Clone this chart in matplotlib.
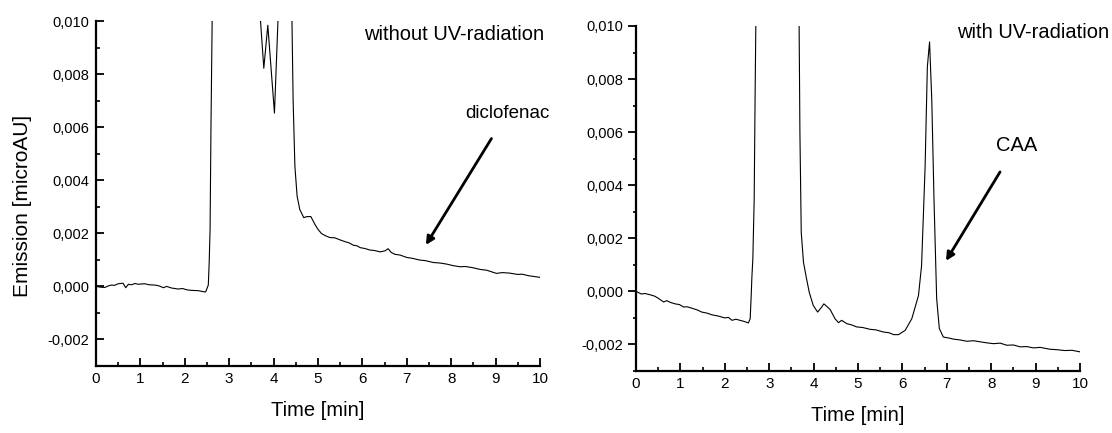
import numpy as np
import matplotlib.pyplot as plt
from matplotlib.ticker import MultipleLocator, FuncFormatter

plt.rcParams['font.family'] = ['Liberation Sans', 'DejaVu Sans']

# chromatogram without UV-radiation
t_without = [0.0, 0.1, 0.2, 0.28, 0.35, 0.42, 0.5, 0.61, 0.67, 0.73, 0.8, 0.88,
             0.95, 1.1, 1.2, 1.33, 1.42, 1.52, 1.59, 1.7, 1.85, 1.95, 2.05,
             2.15, 2.3, 2.42, 2.47, 2.53, 2.55, 2.57, 2.59, 2.62, 2.7, 3.2,
             3.71, 3.78, 3.87, 4.02, 4.11, 4.2, 4.41, 4.44, 4.48, 4.53, 4.59,
             4.68, 4.75, 4.84, 4.93, 5.0, 5.08, 5.18, 5.27, 5.38, 5.5, 5.62,
             5.7, 5.8, 5.88, 5.95, 6.05, 6.17, 6.28, 6.4, 6.51, 6.58, 6.65,
             6.73, 6.85, 7.0, 7.12, 7.3, 7.42, 7.6, 7.75, 7.9, 8.05, 8.2, 8.32,
             8.5, 8.65, 8.8, 9.02, 9.15, 9.32, 9.5, 9.6, 9.75, 9.88, 10.0]
em_without = [0.0, -0.00003, -0.00004, 0.00002, 0.00005, 0.00004, 0.0001, 0.00012,
              -0.00005, 0.00008, 0.00006, 0.00011, 0.00008, 0.0001, 0.00006,
              0.00005, 0.00002, -0.00005, 0.0, -0.00006, -0.0001, -0.00008,
              -0.00013, -0.00015, -0.00016, -0.0002, -0.00021, 0.00005, 0.0009,
              0.00215, 0.006, 0.0105, 0.02, 0.03,
              0.0099, 0.00822, 0.00984, 0.00653, 0.0105, 0.02, 0.0105, 0.00703,
              0.00453, 0.0034, 0.0029, 0.00259, 0.00263, 0.00263, 0.00234,
              0.00215, 0.00199, 0.0019, 0.00184, 0.00183, 0.00175, 0.00168,
              0.00164, 0.00155, 0.00153, 0.00146, 0.00143, 0.00137, 0.00135,
              0.0013, 0.00134, 0.00142, 0.00128, 0.00121, 0.00118, 0.00109,
              0.00106, 0.00099, 0.00097, 0.0009, 0.00088, 0.00084, 0.00078,
              0.00074, 0.00075, 0.0007, 0.00064, 0.00061, 0.00049, 0.00052,
              0.0005, 0.00045, 0.00046, 0.0004, 0.00037, 0.00034]

# chromatogram with UV-radiation
t_with = [0.0, 0.12, 0.2, 0.32, 0.42, 0.5, 0.62, 0.69, 0.78, 0.88, 0.98, 1.07,
          1.15, 1.25, 1.38, 1.48, 1.6, 1.7, 1.85, 2.0, 2.08, 2.16, 2.25, 2.34,
          2.45, 2.53, 2.57, 2.59, 2.61, 2.63, 2.66, 2.68, 2.7, 3.2,
          3.67, 3.69, 3.72, 3.77, 3.84, 3.9, 3.99, 4.09, 4.18, 4.23, 4.37,
          4.48, 4.56, 4.63, 4.75, 4.85, 4.97, 5.1, 5.27, 5.4, 5.57, 5.7, 5.8,
          5.91, 6.06, 6.21, 6.36, 6.43, 6.51, 6.56, 6.61, 6.66, 6.71, 6.77,
          6.83, 6.92, 7.05, 7.15, 7.3, 7.45, 7.6, 7.75, 7.9, 8.05, 8.2, 8.35,
          8.5, 8.65, 8.8, 8.95, 9.1, 9.32, 9.5, 9.65, 9.82, 10.0]
em_with = [0.0, -0.0001, -0.00008, -0.00013, -0.00018, -0.00026, -0.0004,
           -0.00035, -0.00042, -0.00047, -0.0005, -0.00059, -0.00058, -0.00063,
           -0.0007, -0.00078, -0.00082, -0.00088, -0.00093, -0.001, -0.00098,
           -0.00109, -0.00105, -0.00109, -0.00114, -0.00119,
           -0.00103, -0.00028, 0.00059, 0.00122, 0.00346, 0.0072, 0.0105, 0.03,
           0.0105, 0.006, 0.00222, 0.0011, 0.00047, -0.00003, -0.00053, -0.00078,
           -0.00059, -0.00047, -0.00068, -0.00103, -0.00118, -0.00109, -0.00122,
           -0.00126, -0.00134, -0.00136, -0.00143, -0.00145, -0.00153, -0.00156,
           -0.00163, -0.00163, -0.00147, -0.00103,
           -0.00016, 0.00097, 0.00471, 0.00846, 0.0094, 0.00721, 0.00346,
           -0.00028, -0.0014, -0.00172, -0.00176, -0.0018, -0.00183, -0.00188,
           -0.00186, -0.0019, -0.00194, -0.00197, -0.00195, -0.00203, -0.00202,
           -0.00209, -0.00208, -0.00213, -0.00211, -0.00218, -0.0022, -0.00223,
           -0.00222, -0.00228]

fig = plt.figure(figsize=(11.12, 4.33), dpi=100)
ax1 = fig.add_axes([0.0863, 0.1547, 0.3993, 0.7968])
ax2 = fig.add_axes([0.572, 0.1432, 0.3993, 0.7968])

fmt = FuncFormatter(lambda v, p: f"{v:.3f}".replace('.', ','))

for ax, t, em in [(ax1, t_without, em_without), (ax2, t_with, em_with)]:
    ax.plot(t, em, color='black', lw=0.8)
    ax.set_xlim(0, 10)
    ax.set_ylim(-0.003, 0.010)
    ax.spines['top'].set_visible(False)
    ax.spines['right'].set_visible(False)
    ax.spines['left'].set_linewidth(1.6)
    ax.spines['bottom'].set_linewidth(1.6)
    ax.xaxis.set_major_locator(MultipleLocator(1))
    ax.xaxis.set_minor_locator(MultipleLocator(0.5))
    ax.yaxis.set_major_locator(MultipleLocator(0.002))
    ax.yaxis.set_minor_locator(MultipleLocator(0.001))
    ax.yaxis.set_major_formatter(fmt)
    ax.tick_params(axis='x', which='major', direction='in', length=6, width=1.3,
                   labelsize=11, pad=4)
    ax.tick_params(axis='x', which='minor', direction='in', length=3, width=1.2)
    ax.set_xlabel('Time [min]', fontsize=14.5, labelpad=11)

# left panel: y ticks point inward, right panel: outward
ax1.tick_params(axis='y', which='major', direction='in', length=6, width=1.3,
                labelsize=10.5, pad=5)
ax1.tick_params(axis='y', which='minor', direction='in', length=3, width=1.2)
ax2.tick_params(axis='y', which='major', direction='out', length=6, width=1.3,
                labelsize=10.5, pad=3)
ax2.tick_params(axis='y', which='minor', direction='out', length=2.5, width=1.2)

ax1.set_ylabel('Emission [microAU]', fontsize=15)
ax1.yaxis.set_label_coords(-0.145, 0.464)

ax1.text(6.04, 0.0095, 'without UV-radiation', fontsize=14.5, va='center', clip_on=False)
ax1.annotate('diclofenac', xy=(7.43, 0.00156), xytext=(9.26, 0.00653),
             fontsize=13.5, ha='center', va='center', annotation_clip=False,
             arrowprops=dict(arrowstyle='-|>', lw=2, color='black', mutation_scale=12,
                             shrinkA=12, shrinkB=0))

ax2.text(7.23, 0.00976, 'with UV-radiation', fontsize=14.5, va='center', clip_on=False)
ax2.annotate('CAA', xy=(6.98, 0.00115), xytext=(8.56, 0.0055),
             fontsize=14.5, ha='center', va='center', annotation_clip=False,
             arrowprops=dict(arrowstyle='-|>', lw=2, color='black', mutation_scale=12,
                             shrinkA=12, shrinkB=0))

fig.savefig('out.png', dpi=100)
